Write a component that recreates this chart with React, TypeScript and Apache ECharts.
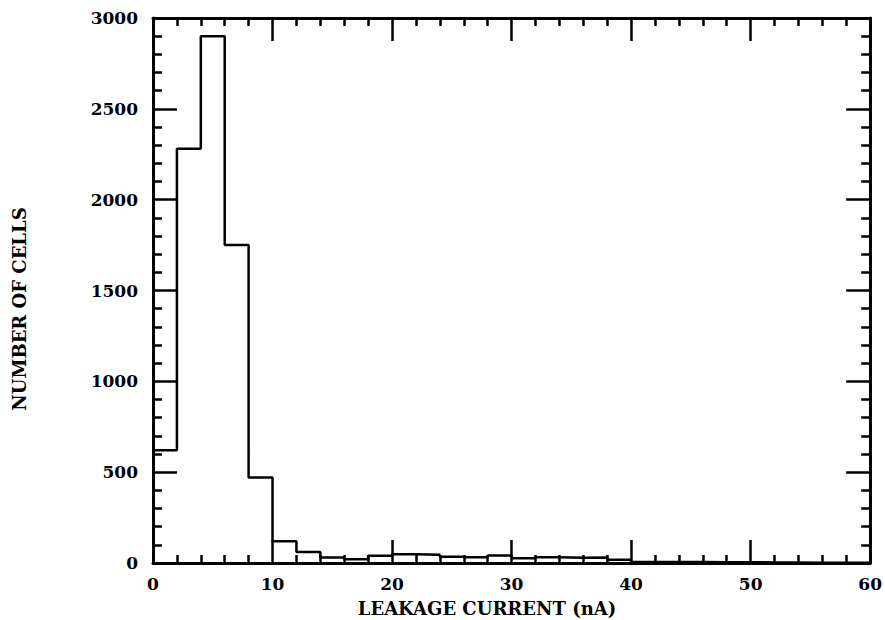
import React, { useEffect, useRef } from "react";
import * as echarts from "echarts";

// Histogram of leakage current (bin width 2 nA)
const binStarts = [0, 2, 4, 6, 8, 10, 12, 14, 16, 18, 20, 22, 24, 26, 28, 30, 32, 34, 36, 38, 40, 42, 44, 46, 48, 50, 52, 54, 56, 58];
const binWidth = 2;
const counts = [620, 2280, 2900, 1750, 470, 120, 60, 30, 20, 40, 48, 45, 35, 31, 41, 26, 31, 29, 30, 18, 6, 5, 5, 4, 4, 3, 3, 2, 2, 2];

const xTitle = "LEAKAGE CURRENT (nA)";
const yTitle = "NUMBER OF CELLS";

const FONT = "DejaVu Serif";

export default function App() {
  const ref = useRef<HTMLDivElement>(null);

  useEffect(() => {
    if (!ref.current) return;
    const chart = echarts.init(ref.current, null, { renderer: "svg" });

    const stepPoints: [number, number][] = binStarts.map((x, i) => [x, counts[i]]);
    stepPoints.push([binStarts[binStarts.length - 1] + binWidth, counts[counts.length - 1]]);

    const axisLine = { show: true, onZero: false, lineStyle: { color: "#000", width: 3 } };
    const axisTick = (len: number) => ({ show: true, inside: true, length: len, lineStyle: { color: "#000", width: 2.5 } });
    const minorTick = (len: number) => ({ show: true, splitNumber: 5, length: len, lineStyle: { color: "#000", width: 2.5 } });
    const labelStyle = {
      color: "#000", fontFamily: FONT, fontWeight: "bold" as const, fontSize: 17,
      formatter: (v: number) => String(v),
    };

    chart.setOption({
      animation: false,
      backgroundColor: "#fff",
      grid: { left: 153, right: 13, top: 18, bottom: 57, containLabel: false },
      xAxis: [
        {
          type: "value", min: 0, max: 60, interval: 10, position: "bottom",
          axisLine, axisTick: axisTick(23), minorTick: minorTick(8),
          axisLabel: { ...labelStyle, margin: 12 },
          splitLine: { show: false },
        },
        {
          type: "value", min: 0, max: 60, interval: 10, position: "top",
          axisLine, axisTick: axisTick(23), minorTick: minorTick(8),
          axisLabel: { show: false }, splitLine: { show: false },
        },
      ],
      yAxis: [
        {
          type: "value", min: 0, max: 3000, interval: 500, position: "left",
          axisLine, axisTick: axisTick(24), minorTick: minorTick(9),
          axisLabel: { ...labelStyle, margin: 15 },
          splitLine: { show: false },
        },
        {
          type: "value", min: 0, max: 3000, interval: 500, position: "right",
          axisLine, axisTick: axisTick(24), minorTick: minorTick(9),
          axisLabel: { show: false }, splitLine: { show: false },
        },
      ],
      graphic: [
        {
          type: "text", x: 487, y: 608,
          style: { text: xTitle, fill: "#000", font: `bold 18px "${FONT}"`, align: "center", verticalAlign: "middle" },
        },
        {
          type: "text", x: 19, y: 309, rotation: Math.PI / 2,
          style: { text: yTitle, fill: "#000", font: `bold 18px "${FONT}"`, align: "center", verticalAlign: "middle" },
        },
      ],
      series: [
        {
          type: "line",
          step: "end",
          data: stepPoints,
          symbol: "none",
          lineStyle: { color: "#000", width: 2.5 },
          clip: false,
        },
      ],
    });

    return () => chart.dispose();
  }, []);

  return <div ref={ref} style={{ position: "fixed", left: 0, top: 0, width: 885, height: 620 }} />;
}
